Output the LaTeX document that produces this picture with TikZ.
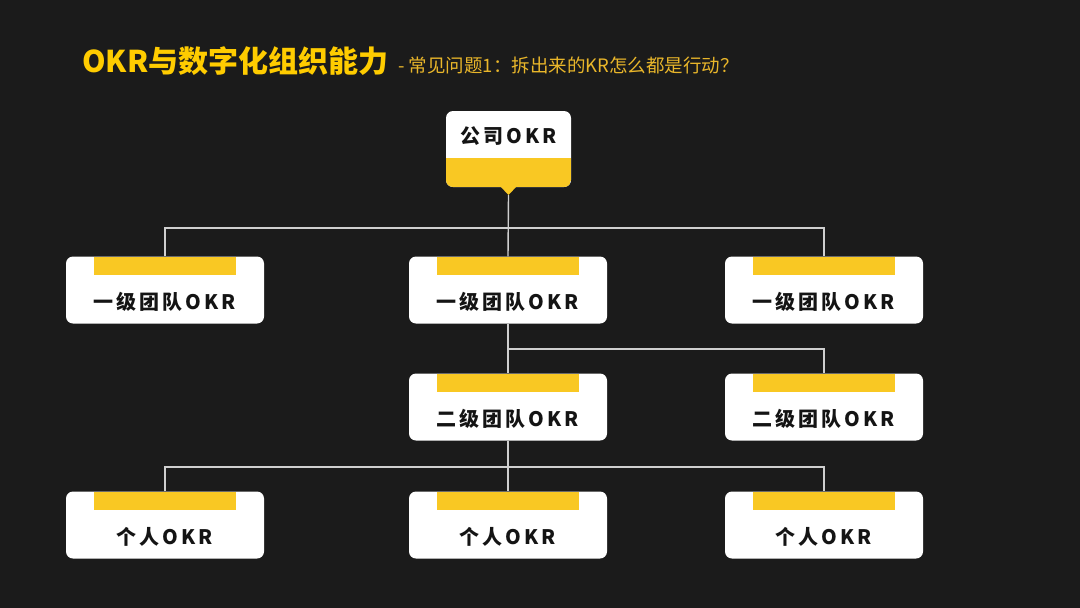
\documentclass[tikz,border=0pt]{standalone}
\usepackage{fontspec}
\setmainfont{Noto Sans CJK SC}
\usepackage{tikz}

\definecolor{okrbg}{HTML}{1B1B1B}
\definecolor{okryellow}{HTML}{F9C823}
\definecolor{okrtitle}{HTML}{FFCC00}
\definecolor{okrsub}{HTML}{E9B62A}
\definecolor{okrline}{HTML}{CFCFCF}
\definecolor{okrtext}{HTML}{141414}

\newcommand{\okrboxfont}{\bfseries\fontsize{20}{20}\selectfont\addfontfeature{LetterSpace=15}}

\tikzset{
    unitbox/.style={fill=white, rounded corners=7pt, minimum width=198pt, minimum height=67pt, inner sep=0pt,
        path picture={\fill[okryellow, sharp corners] ([xshift=28pt]path picture bounding box.north west) rectangle ([xshift=-28pt, yshift=-18pt]path picture bounding box.north east);}},
    boxtext/.style={inner sep=0pt, text=okrtext, font=\okrboxfont},
    link/.style={draw=okrline, line width=1.4pt},
}

\begin{document}
\begin{tikzpicture}[x=1pt, y=-1pt]
    \fill[okrbg] (0, 0) rectangle (1080, 608);
    \useasboundingbox (0, 0) rectangle (1080, 608);
    % title
    \node[anchor=base west, inner sep=0pt, text=okrtitle, font=\bfseries\fontsize{30}{30}\selectfont] (title) at (82, 72) {OKR与数字化组织能力};
    \node[anchor=base west, inner sep=0pt, text=okrsub, font=\fontsize{18.5}{18.5}\selectfont] (subtitle) at (398, 72) {- 常见问题1：拆出来的KR怎么都是行动？};
    % company
    \node[fill=white, rounded corners=7pt, minimum width=125pt, minimum height=76pt, inner sep=0pt,
        path picture={\fill[okryellow, sharp corners] (path picture bounding box.south west) rectangle ([yshift=29pt]path picture bounding box.south east);}] (company) at (508.5, 149) {};
    \fill[okryellow] (500, 186) -- (517, 186) -- (508.5, 195) -- cycle;
    \coordinate (tip) at (508.5, 195);
    \node[boxtext] (company-text) at (508.5, 136) {公司OKR};
    % boxes
    \foreach \name/\x/\y/\txt in {l1left/165/290/一级团队OKR, l1mid/508/290/一级团队OKR, l1right/824/290/一级团队OKR,
        l2mid/508/407/二级团队OKR, l2right/824/407/二级团队OKR,
        p3left/165/525/个人OKR, p3mid/508/525/个人OKR, p3right/824/525/个人OKR} {
        \node[unitbox] (\name) at (\x, \y) {};
        \node[boxtext] (\name-text) at (\x, \y+12) {\txt};
    }
    % links
    \coordinate (bus1) at (508, 228);
    \coordinate (bus2) at (508, 349);
    \coordinate (bus3) at (508, 467);
    \draw[link] (tip) -- (l1mid.north);
    \draw[link] (l1left.north) |- (bus1) -| (l1right.north);
    \draw[link] (l1mid.south) -- (l2mid.north);
    \draw[link] (bus2) -| (l2right.north);
    \draw[link] (l2mid.south) -- (p3mid.north);
    \draw[link] (p3left.north) |- (bus3) -| (p3right.north);
\end{tikzpicture}
\end{document}
